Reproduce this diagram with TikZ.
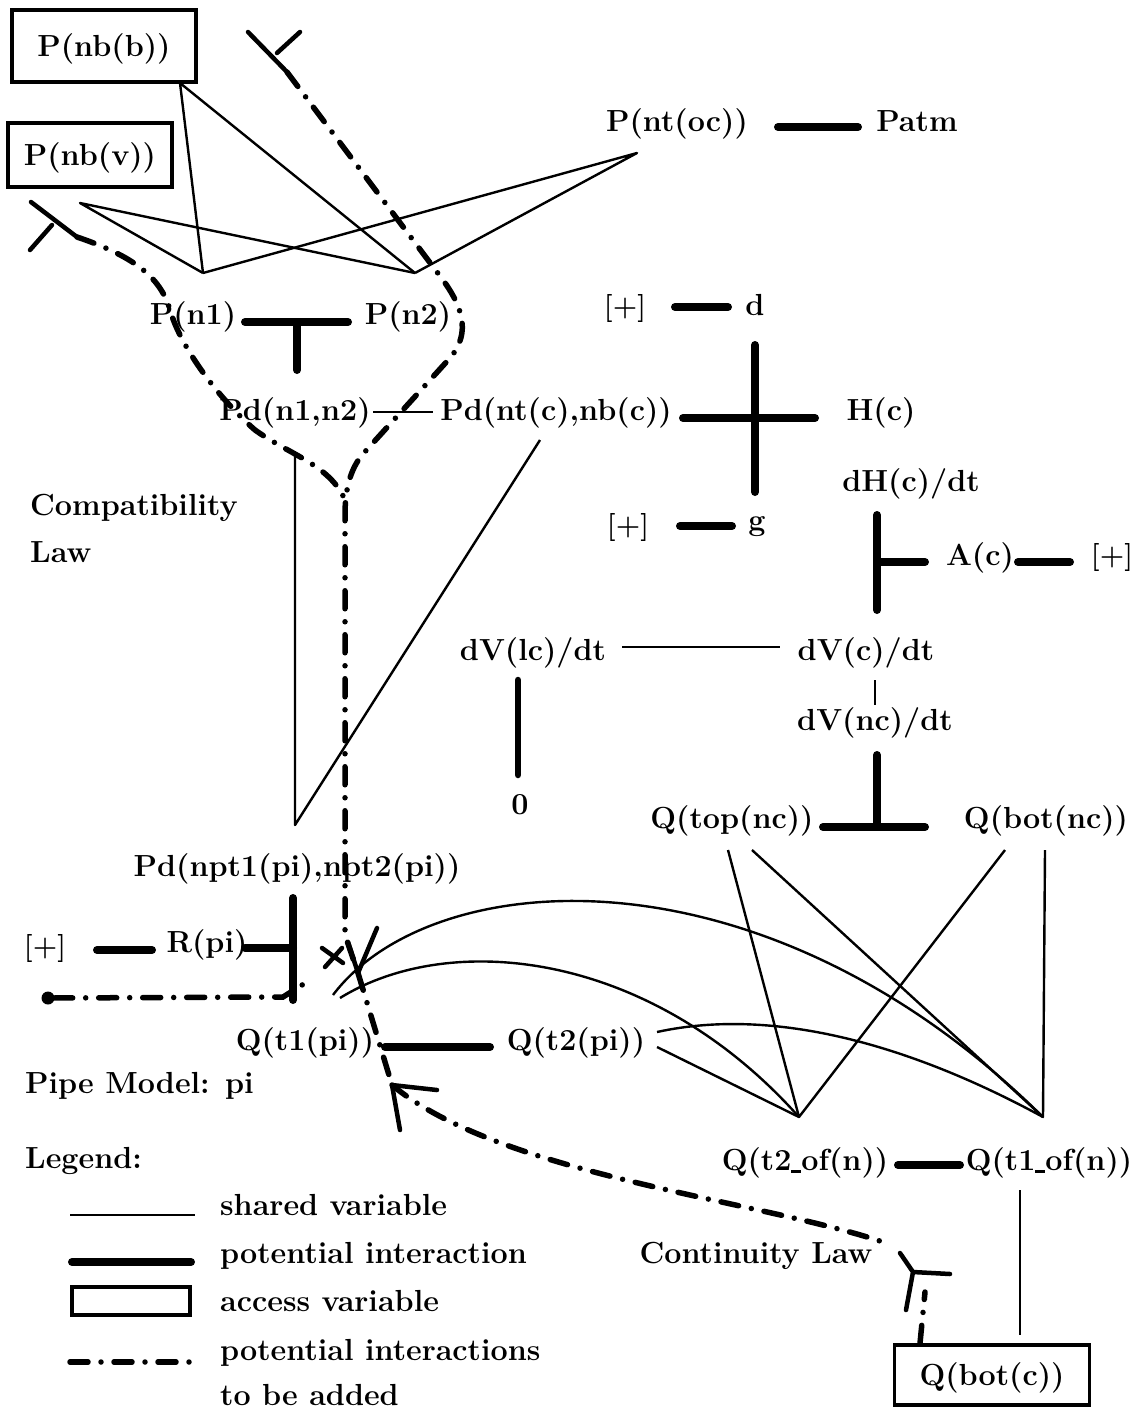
\documentclass[tikz,border=0pt]{standalone}
\usetikzlibrary{calc}
\newcommand{\lowbar}{\rule[-2.5pt]{10pt}{2.6pt}}
\begin{document}
\begin{tikzpicture}[x=1pt,y=-1pt,
  lbl/.style={inner sep=0pt, font=\fontsize{30.5}{36}\selectfont\bfseries, text height=23pt, text depth=2pt},
  plus/.style={inner sep=0pt, font=\fontsize{28}{32}\selectfont\bfseries, text height=20pt, text depth=2pt},
  acc/.style={lbl, draw, line width=3.5pt},
  shared/.style={line width=2.4pt, line join=round},
  pot/.style={line width=8pt, line cap=round},
  toadd/.style={line width=5.5pt, line cap=round, dash pattern=on 18pt off 13pt on 0pt off 13pt},
  tip/.style={line width=4.5pt, line cap=round, line join=round}
]
\fill[white] (0,0) rectangle (1139,1409);
\path[use as bounding box] (0,0) rectangle (1139,1409);

% ---------- access variables ----------
\node[acc, minimum width=184pt, minimum height=72pt] (pnbb) at (104,46) {P(nb(b))};
\node[acc, minimum width=164pt, minimum height=64pt] (pnbv) at (90,155) {P(nb(v))};
\node[acc, minimum width=195pt, minimum height=60pt] (qbotc) at (992,1375) {Q(bot(c))};

% ---------- variables ----------
\node[lbl] (pntoc) at (677,121) {P(nt(oc))};
\node[lbl] (patm) at (917,121) {Patm};
\node[lbl] (pn1) at (193,314) {P(n1)};
\node[lbl] (pn2) at (408,314) {P(n2)};
\node[plus] (plusd) at (625,306) {[+]};
\node[lbl] (d) at (755,305) {d};
\node[lbl] (pd12) at (295,410) {Pd(n1,n2)};
\node[lbl] (pdc) at (556,410) {Pd(nt(c),nb(c))};
\node[lbl] (hc) at (881,410) {H(c)};
\node[lbl] (dhc) at (911,481) {dH(c)/dt};
\node[lbl, anchor=west] (compat) at (30,505) {Compatibility};
\node[lbl, anchor=west] (law) at (30,552) {Law};
\node[plus] (plusg) at (628,525) {[+]};
\node[lbl] (g) at (757,520) {g};
\node[lbl] (ac) at (980,555) {A(c)};
\node[plus] (plusa) at (1112,555) {[+]};
\node[lbl] (dvlc) at (533,650) {dV(lc)/dt};
\node[lbl] (dvc) at (866,650) {dV(c)/dt};
\node[lbl] (dvnc) at (875,720) {dV(nc)/dt};
\node[lbl] (zero) at (520,804) {0};
\node[lbl] (qtop) at (732,818) {Q(top(nc))};
\node[lbl] (qbot) at (1046,818) {Q(bot(nc))};
\node[lbl] (pdnpt) at (297,866) {Pd(npt1(pi),npt2(pi))};
\node[plus] (plusr) at (45,946) {[+]};
\node[lbl] (rpi) at (207,942) {R(pi)};
\node[lbl] (qt1) at (305,1040) {Q(t1(pi))};
\node[lbl] (qt2) at (576,1040) {Q(t2(pi))};
\node[lbl, anchor=west] (pipe) at (25,1083) {Pipe Model: pi};
\node[lbl, anchor=west] (legend) at (25,1158) {Legend:};
\node[lbl] (qt2n) at (805,1160) {Q(t2\lowbar of(n))};
\node[lbl] (qt1n) at (1049,1160) {Q(t1\lowbar of(n))};
\node[lbl] (cont) at (756,1253) {Continuity Law};

% ---------- shared variables ----------
\coordinate (v1) at (203,273);
\coordinate (v2) at (415,273);
\coordinate (bb) at (180,83);
\coordinate (bv) at (80,203);
\coordinate (oc) at (637,153);
\draw[shared] (v1) -- (bb) -- (v2);
\draw[shared] (v1) -- (bv) -- (v2);
\draw[shared] (v1) -- (oc) -- (v2);

\coordinate (pd12e) at (373,412);
\coordinate (pdcw) at (433,412);
\draw[shared] (pd12e) -- (pdcw);

\coordinate (pd12s) at (295,455);
\coordinate (npv) at (295,825);
\coordinate (pdcs) at (540,440);
\draw[shared] (pd12s) -- (npv) -- (pdcs);

\coordinate (dvlce) at (622,647);
\coordinate (dvcw) at (780,647);
\draw[shared] (dvlce) -- (dvcw);
\coordinate (dvcs) at (875,680);
\coordinate (dvncn) at (875,705);
\draw[shared] (dvcs) -- (dvncn);

\coordinate (qv1) at (799,1117);
\coordinate (qv2) at (1043,1117);
\coordinate (qt1a) at (728,850);
\coordinate (qt1b) at (752,850);
\coordinate (qb1) at (1005,850);
\coordinate (qb2) at (1045,850);
\draw[shared] (qt1a) -- (qv1) -- (qb1);
\draw[shared] (qt1b) -- (qv2) -- (qb2);

\coordinate (c1) at (333,995);
\coordinate (c2) at (340,998);
\draw[shared] (c1) .. controls (430,866) and (760,838) .. (qv2);
\draw[shared] (c2) .. controls (450,930) and (650,950) .. (qv1);
\coordinate (t2a) at (657,1032);
\coordinate (t2b) at (657,1047);
\draw[shared] (t2a) .. controls (780,1005) and (920,1050) .. (qv2);
\draw[shared] (t2b) -- (qv1);

\coordinate (q1ns) at (1020,1190);
\coordinate (qbcn) at (1020,1335);
\draw[shared] (q1ns) -- (qbcn);

% ---------- potential interactions ----------
\draw[pot] (778,127) -- (858,127);
\draw[pot] (245,322) -- (348,322) (297,322) -- (297,370);
\draw[pot] (675,307) -- (728,307);
\draw[pot] (683,418) -- (815,418) (755,345) -- (755,492);
\draw[pot] (680,526) -- (732,526);
\draw[pot] (877,515) -- (877,610) (877,562) -- (925,562);
\draw[pot] (1018,562) -- (1070,562);
\draw[pot, line width=6.5pt] (518,680) -- (518,775);
\draw[pot] (877,755) -- (877,825) (823,827) -- (925,827);
\draw[pot] (293,898) -- (293,1000) (245,948) -- (293,948);
\draw[pot] (97,950) -- (152,950);
\draw[pot] (385,1047) -- (490,1047);
\draw[pot] (898,1165) -- (960,1165);

% ---------- potential interactions to be added ----------
\coordinate (ya) at (287,72);
\coordinate (yb) at (77,237);
\coordinate (va) at (358,973);
\coordinate (ga) at (392,1085);
\coordinate (yc) at (886,1243);

\draw[tip] (248,32) -- (ya) (300,32) -- (277,53);
\draw[toadd] (ya) -- (440,276) .. controls (462,305) and (472,332) .. (450,358)
  -- (362,455) .. controls (350,470) and (345,490) .. (345,515) -- (345,935) -- (va);
\draw[tip] (31,202) -- (yb) (52,225) -- (30,250);
\draw[toadd] (yb) .. controls (130,255) and (160,275) .. (170,310)
  .. controls (180,345) and (215,395) .. (255,430)
  .. controls (290,455) and (330,465) .. (345,500);
\draw[tip] (348,942) -- (va) -- (377,928);
\draw[tip] (322,948) -- (343,963) (325,967) -- (342,948);
\draw[toadd] (va) -- (ga);
\draw[tip] (400,1130) -- (ga) -- (437,1090);
\draw[toadd] (ga) .. controls (500,1175) and (760,1200) .. (yc);
\draw[tip] (900,1253) -- (913,1272) -- (950,1274) (913,1272) -- (906,1310);
\draw[toadd] ([xshift=-72pt]qbotc.north) -- (925,1292);

\node[circle, fill, inner sep=0pt, minimum size=13pt] (dot) at (48,998) {};
\draw[toadd] (dot) -- (283,997) -- (310,980);

% ---------- legend ----------
\draw[shared] (70,1215) -- (195,1215);
\draw[pot] (72,1262) -- (191,1262);
\draw[line width=3.5pt] (72,1287) rectangle (190,1315);
\draw[toadd] (70,1362) -- (195,1362);
\node[lbl, anchor=west] (lg1) at (220,1205) {shared variable};
\node[lbl, anchor=west] (lg2) at (220,1253) {potential interaction};
\node[lbl, anchor=west] (lg3) at (220,1301) {access variable};
\node[lbl, anchor=west] (lg4) at (220,1350) {potential interactions};
\node[lbl, anchor=west] (lg5) at (220,1395) {to be added};
\end{tikzpicture}
\end{document}
